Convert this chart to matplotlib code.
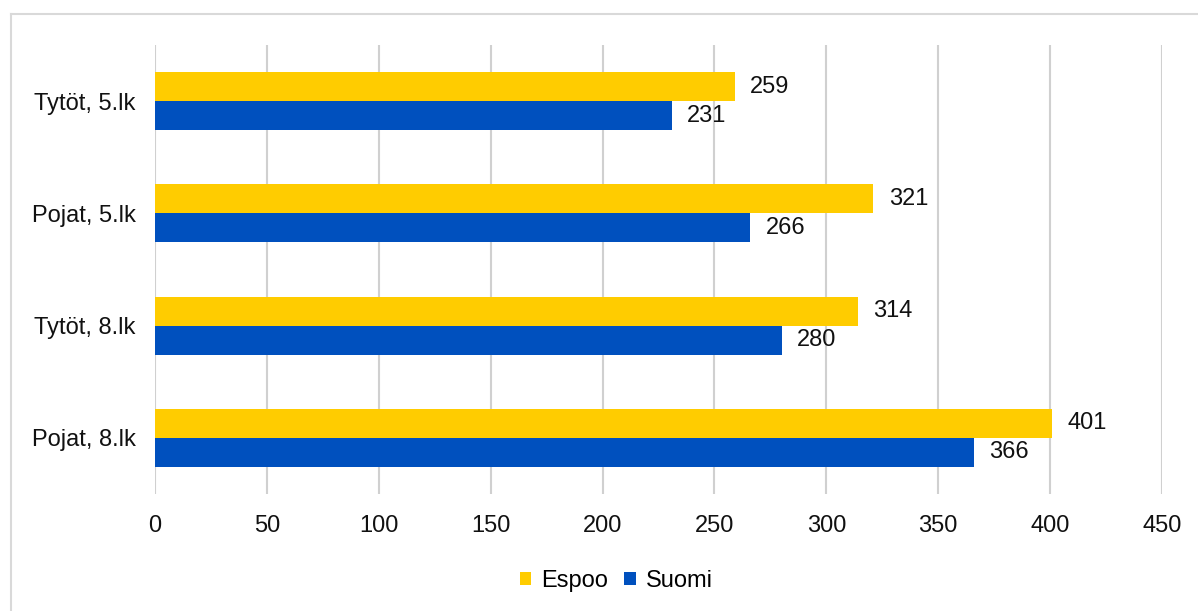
import matplotlib.pyplot as plt
import numpy as np
from matplotlib.lines import Line2D

plt.rcParams['font.family'] = ['Liberation Sans', 'DejaVu Sans']

categories = ['Tytöt, 5.lk', 'Pojat, 5.lk', 'Tytöt, 8.lk', 'Pojat, 8.lk']
espoo = [259, 321, 314, 401]
suomi = [231, 266, 280, 366]
series_names = ['Espoo', 'Suomi']
colors = ['#FFCC00', '#0050BE']
xticks = [0, 50, 100, 150, 200, 250, 300, 350, 400, 450]

W, H = 1198, 611
fig = plt.figure(figsize=(W / 100, H / 100), dpi=100)
ax = fig.add_axes([155 / W, 1 - 494 / H, (1162 - 155) / W, (494 - 45) / H])

# categories from top to bottom
y = np.arange(len(categories))[::-1]
h = 0.258
b1 = ax.barh(y + h / 2, espoo, height=h, color=colors[0], label=series_names[0], zorder=3)
b2 = ax.barh(y - h / 2, suomi, height=h, color=colors[1], label=series_names[1], zorder=3)

for bars, vals in [(b1, espoo), (b2, suomi)]:
    for bar, v in zip(bars, vals):
        ax.annotate(str(v), (v, bar.get_y() + bar.get_height() / 2),
                    xytext=(11, 0), textcoords='offset points',
                    va='center', ha='left', fontsize=17, color='#111111')

ax.set_xlim(0, 450)
ax.set_ylim(-0.5, 3.5)
ax.set_xticks(xticks)
ax.set_yticks(y)
ax.set_yticklabels(categories)
ax.tick_params(length=0, labelsize=17, colors='#111111')
ax.tick_params(axis='x', pad=15)
ax.tick_params(axis='y', pad=14)
ax.grid(axis='x', color='#d0d0d0', linewidth=1.5, zorder=0)
for s in ax.spines.values():
    s.set_visible(False)

fig.legend(loc='center', bbox_to_anchor=(616 / W, 1 - 581 / H), ncol=2,
           frameon=False, fontsize=17, handlelength=0.5, handleheight=0.5,
           handletextpad=0.4, columnspacing=0.7)

# outer chart border (top and left edges visible)
fig.add_artist(Line2D([10.5 / W, 10.5 / W], [0, 1 - 14 / H], color='#d9d9d9', lw=1.5, transform=fig.transFigure))
fig.add_artist(Line2D([10.5 / W, 1], [1 - 14 / H, 1 - 14 / H], color='#d9d9d9', lw=1.5, transform=fig.transFigure))

fig.savefig('out.png', dpi=100)
